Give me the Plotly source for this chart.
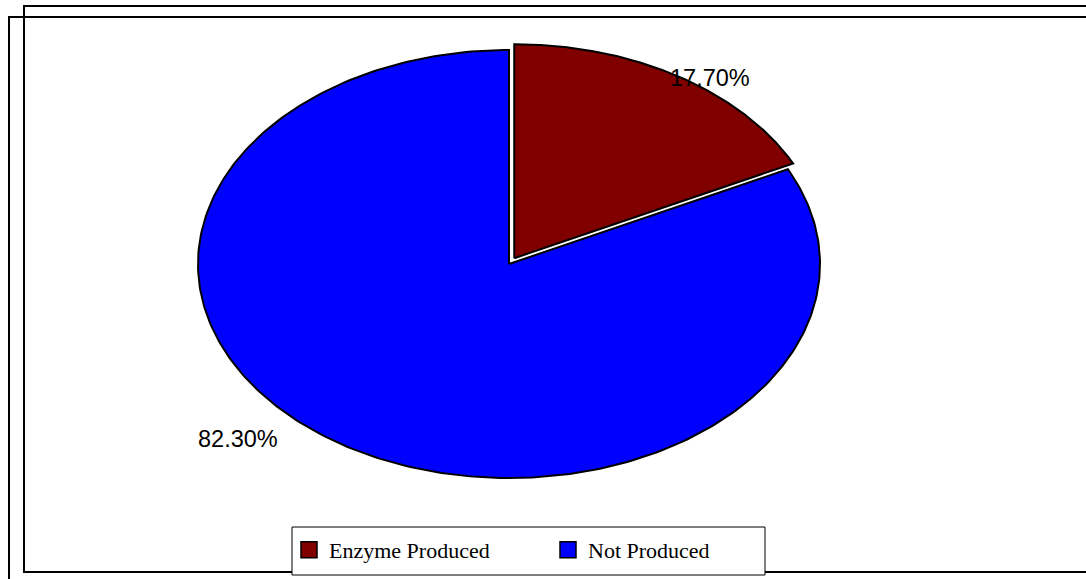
import numpy as np
import plotly.graph_objects as go

# ---- data ----
categories = ["Enzyme Produced", "Not Produced"]
values = [17.7, 82.3]
value_labels = ["17.70%", "82.30%"]

# ---- style ----
COLORS = ["#800000", "#0000FF"]
PULL = [0.032, 0.0]
LABEL_POS = [(53.3, 1.083), (223.2, 1.196)]  # (angle deg, radius) in pie units
START_ANGLE = 90

W, H = 1086, 579
CX, CY, RX, RY = 509, 264, 311, 214   # pixel centre / radii of the (elliptical) pie
R = 1.12                              # axis half-range in pie units


def px_x(p):
    return p / W


def px_y(p):
    return 1 - p / H


fig = go.Figure()

total = sum(values)
angle = START_ANGLE
for cat, v, col, pull in zip(categories, values, COLORS, PULL):
    span = 360.0 * v / total
    a0, a1 = angle, angle - span
    mid = np.radians((a0 + a1) / 2)
    ox, oy = pull * np.cos(mid), pull * np.sin(mid)
    th = np.radians(np.linspace(a0, a1, 300))
    xs = np.concatenate([[ox], ox + np.cos(th), [ox]])
    ys = np.concatenate([[oy], oy + np.sin(th), [oy]])
    fig.add_trace(go.Scatter(
        x=xs, y=ys, mode="lines", fill="toself", fillcolor=col,
        line=dict(color="black", width=2), showlegend=False, hoverinfo="skip",
    ))
    angle = a1

# legend entries
for cat, col in zip(categories, COLORS):
    fig.add_trace(go.Scatter(
        x=[None], y=[None], mode="markers", name=cat,
        marker=dict(symbol="square", size=16, color=col,
                    line=dict(color="black", width=1.5)),
    ))

# percentage labels
for txt, (ang, rad) in zip(value_labels, LABEL_POS):
    fig.add_annotation(
        x=rad * np.cos(np.radians(ang)), y=rad * np.sin(np.radians(ang)),
        xref="x", yref="y", text=txt, showarrow=False,
        font=dict(family="Liberation Sans, Arial", size=23.5, color="black"),
    )

# frames and legend box
shapes = [
    dict(type="rect", xref="paper", yref="paper",
         x0=px_x(24), y0=px_y(6), x1=px_x(1100), y1=px_y(572),
         line=dict(color="black", width=2), fillcolor="rgba(0,0,0,0)"),
    dict(type="rect", xref="paper", yref="paper",
         x0=px_x(9), y0=px_y(17), x1=px_x(1100), y1=px_y(590),
         line=dict(color="black", width=2), fillcolor="rgba(0,0,0,0)"),
    dict(type="rect", xref="paper", yref="paper",
         x0=px_x(292), y0=px_y(527), x1=px_x(765), y1=px_y(575),
         line=dict(color="black", width=1), fillcolor="white", layer="above"),
]

x_dom = [px_x(CX - R * RX), px_x(CX + R * RX)]
y_dom = [px_y(CY + R * RY), px_y(CY - R * RY)]

fig.update_layout(
    width=W, height=H,
    margin=dict(l=0, r=0, t=0, b=0),
    paper_bgcolor="white", plot_bgcolor="rgba(0,0,0,0)",
    xaxis=dict(range=[-R, R], domain=x_dom, visible=False, fixedrange=True),
    yaxis=dict(range=[-R, R], domain=y_dom, visible=False, fixedrange=True),
    shapes=shapes,
    showlegend=True,
    legend=dict(
        orientation="h", x=px_x(289), xanchor="left",
        y=px_y(550), yanchor="middle",
        bgcolor="rgba(0,0,0,0)", borderwidth=0,
        font=dict(family="Liberation Serif, Times New Roman", size=22, color="black"),
        entrywidth=214, entrywidthmode="pixels",
    ),
)

fig.write_html("out.html")
